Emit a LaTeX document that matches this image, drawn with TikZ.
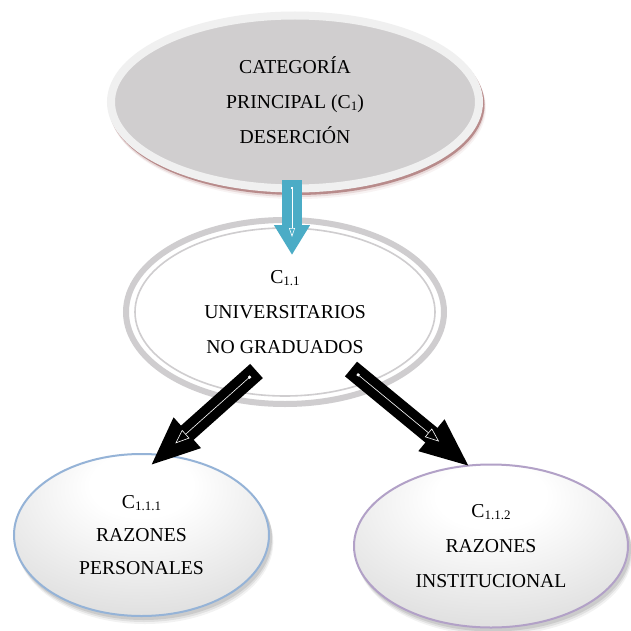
\documentclass[tikz,border=0pt]{standalone}
\usepackage{fontspec}
\setmainfont{Liberation Serif}
\usetikzlibrary{shapes.geometric,arrows.meta}
\definecolor{topfill}{HTML}{D0CECF}
\definecolor{topring}{HTML}{F0F0F0}
\definecolor{topshadow}{HTML}{8A3F3F}
\definecolor{midring}{HTML}{CFCDCF}
\definecolor{accblue}{HTML}{4BACC6}
\definecolor{lblue}{HTML}{95B3D7}
\definecolor{lpurple}{HTML}{B2A1C7}
\pgfdeclareradialshading{ellshade}{\pgfpoint{0bp}{18bp}}{color(0bp)=(white); color(10bp)=(white); color(50bp)=(black!20); color(72bp)=(black!27)}
\newcommand\tstrut{\rule{0pt}{21pt}}
\newcommand\bstrut{\rule[-8pt]{0pt}{8pt}}
\newcommand\subs[1]{\raisebox{-2pt}{\fontsize{13}{13}\selectfont #1}}
\tikzset{
  ellnode/.style={ellipse, inner sep=0pt, align=center, font=\fontsize{19.7}{35}\selectfont},
  blockarrow/.style={line width=19pt, black, -{Triangle[length=50pt,width=37pt]}},
  innerline/.style={white, line width=0.6pt, {Square[length=2.5pt,width=2.5pt]}-{Triangle[open,length=14pt,width=11pt]}, shorten <=8pt},
}
\begin{document}
\begin{tikzpicture}[x=1pt,y=-1pt]
\useasboundingbox (0,0) rectangle (631,631);
\fill[white] (0,0) rectangle (631,631);

% shadows
\fill[topshadow,opacity=0.06] (298,108) ellipse [x radius=188pt, y radius=91pt];
\fill[topshadow,opacity=0.14] (297,106.5) ellipse [x radius=188pt, y radius=90.5pt];
\fill[topshadow,opacity=0.5] (296.5,104.5) ellipse [x radius=188pt, y radius=90.5pt];
\foreach \d/\o in {7/0.05,5/0.07,3/0.09}{
  \fill[black,opacity=\o] ({142.5+\d/3},{535+\d}) ellipse [x radius=128.5pt, y radius=82pt];
  \fill[black,opacity=\o] ({492+\d/3},{546+\d}) ellipse [x radius=138pt, y radius=82.5pt];
}

% top ellipse
\node[ellnode, minimum width=368pt, minimum height=173pt, fill=topfill, draw=topring, line width=8pt] (top) at (295,102)
  {\tstrut CATEGORÍA\\PRINCIPAL (C\subs{1})\\DESERCIÓN\bstrut};

% middle ellipse
\node[ellnode, minimum width=318pt, minimum height=184pt, fill=white, draw=midring, line width=6pt] (mid) at (285,312)
  {\tstrut C\subs{1.1}\\UNIVERSITARIOS\\NO GRADUADOS\bstrut};
\draw[midring, line width=1.6pt] (mid.center) ellipse [x radius=150pt, y radius=84pt];

% bottom ellipses
\node[ellnode, minimum width=255pt, minimum height=162pt, shade, shading=ellshade, draw=lblue, line width=2pt,
      font=\fontsize{19.7}{33}\selectfont] (left) at (141.5,535)
  {\tstrut C\subs{1.1.1}\\RAZONES\\PERSONALES\bstrut};
\node[ellnode, minimum width=274pt, minimum height=163pt, shade, shading=ellshade, draw=lpurple, line width=2pt] (right) at (491,546)
  {\tstrut C\subs{1.1.2}\\RAZONES\\INSTITUCIONAL\bstrut};

% blue arrow
\coordinate (b1) at (292,180);
\coordinate (b2) at (292,255);
\draw[accblue, line width=19.4pt, -{Triangle[length=30pt,width=34pt]}] (b1) -- (b2);
\draw[white, line width=0.6pt, {Square[length=2pt,width=2pt]}-{Triangle[open,length=9pt,width=6pt]}, shorten <=7pt, shorten >=18pt] (b1) -- (b2);

% black arrows
\coordinate (l1) at (256.5,371);
\coordinate (l2) at (150,466);
\coordinate (r1) at (351,369);
\coordinate (r2) at (470,467);
\draw[blockarrow] (l1) -- (l2);
\draw[innerline, shorten >=34pt] (l1) -- (l2);
\draw[blockarrow] (r1) -- (r2);
\draw[innerline, shorten >=40pt] (r1) -- (r2);
\end{tikzpicture}
\end{document}
